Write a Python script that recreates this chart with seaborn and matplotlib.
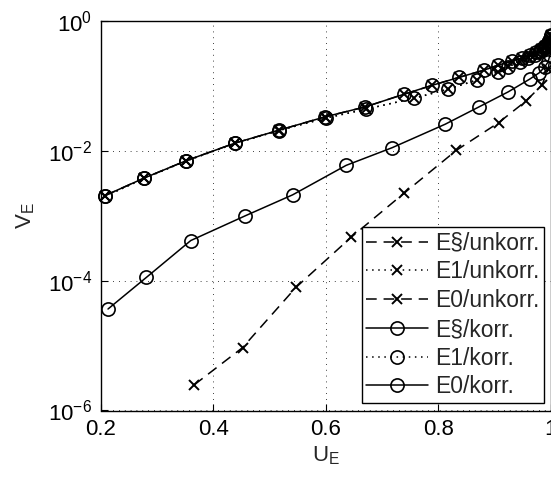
import numpy as np
import pandas as pd
import matplotlib
matplotlib.use("Agg")
import matplotlib.pyplot as plt
import seaborn as sns
from matplotlib.ticker import FixedLocator, LogFormatterSciNotation

# ---- data ----
u_es = [0.208, 0.277, 0.352, 0.439, 0.516, 0.598, 0.670, 0.739, 0.788, 0.836, 0.881, 0.906,
        0.930, 0.948, 0.962, 0.973, 0.982, 0.989, 0.994, 0.998, 1.0]
v_es = [2.05e-3, 3.8e-3, 7.06e-3, 1.32e-2, 2.07e-2, 3.33e-2, 4.75e-2, 7.46e-2, 0.1016, 0.135,
        0.175, 0.209, 0.24, 0.27, 0.30, 0.33, 0.37, 0.41, 0.46, 0.52, 0.60]

u_e1 = [0.208, 0.277, 0.352, 0.439, 0.516, 0.600, 0.672, 0.757, 0.817, 0.868, 0.906, 0.923,
        0.945, 0.960, 0.972, 0.981, 0.988, 0.993, 0.997, 1.0]
v_e1 = [2.0e-3, 3.75e-3, 7.0e-3, 1.3e-2, 2.05e-2, 3.2e-2, 4.4e-2, 6.47e-2, 8.9e-2, 0.123,
        0.165, 0.197, 0.235, 0.27, 0.30, 0.34, 0.38, 0.43, 0.50, 0.58]

u_e0k = [0.213, 0.281, 0.360, 0.457, 0.541, 0.636, 0.718, 0.812, 0.872, 0.924, 0.962, 0.979,
         0.989, 0.995, 0.998, 1.0]
v_e0k = [3.66e-5, 1.12e-4, 4.15e-4, 1.0e-3, 2.1e-3, 5.97e-3, 1.12e-2, 2.57e-2, 4.75e-2, 8.1e-2,
         0.127, 0.159, 0.197, 0.235, 0.30, 0.45]

u_e0u = [0.366, 0.452, 0.547, 0.645, 0.739, 0.832, 0.907, 0.955, 0.984, 0.995, 1.0]
v_e0u = [2.48e-6, 9.3e-6, 7.9e-5, 4.67e-4, 2.23e-3, 1.02e-2, 2.72e-2, 5.8e-2, 0.103, 0.18, 0.35]

x_ticks = [0.2, 0.4, 0.6, 0.8, 1.0]
x_ticklabels = ["0.2", "0.4", "0.6", "0.8", "1"]
y_ticks = [1e-6, 1e-4, 1e-2, 1e0]

sns.set_style("ticks")
plt.rcParams['font.family'] = ['Liberation Sans', 'DejaVu Sans']
plt.rcParams['mathtext.fontset'] = 'custom'
plt.rcParams['mathtext.rm'] = 'Liberation Sans'
plt.rcParams['mathtext.it'] = 'Liberation Sans'
plt.rcParams['mathtext.default'] = 'regular'

fig = plt.figure(figsize=(5.51, 4.79), dpi=100)
ax = fig.add_axes([100.7 / 551, 1 - 410.5 / 479, (551 - 100.7) / 551, (410.5 - 21) / 479])

lw = 1.1
dash = (0, (7, 4.5))
dot = (0, (1, 3))
circ = dict(marker='o', markersize=9.5, markerfacecolor='none', markeredgecolor='black', markeredgewidth=1.2)
cross = dict(marker='x', markersize=6.5, markeredgecolor='black', markeredgewidth=1.4)

series = [
    (u_es, v_es, dash, cross, "E§/unkorr."),
    (u_e1, v_e1, dot, cross, "E1/unkorr."),
    (u_e0u, v_e0u, dash, cross, "E0/unkorr."),
    (u_es, v_es, '-', circ, "E§/korr."),
    (u_e1, v_e1, dot, circ, "E1/korr."),
    (u_e0k, v_e0k, '-', circ, "E0/korr."),
]
for xs, ys, ls, mk, lab in series:
    df = pd.DataFrame({"U": xs, "V": ys})
    sns.lineplot(data=df, x="U", y="V", ax=ax, color='black', linestyle=ls, linewidth=lw,
                 sort=False, estimator=None, label=lab, clip_on=False, **mk)

ax.set_yscale('log')
ax.set_xlim(0.2, 1.0)
ax.set_ylim(1e-6, 1e0)
ax.xaxis.set_major_locator(FixedLocator(x_ticks))
ax.set_xticklabels(x_ticklabels)
ax.yaxis.set_major_locator(FixedLocator(y_ticks))
ax.yaxis.set_major_formatter(LogFormatterSciNotation())
ax.yaxis.set_minor_locator(FixedLocator([]))
ax.tick_params(direction='in', length=5, width=0.8, labelsize=16, pad=6, colors='black')
ax.grid(True, which='major', color='black', linestyle=(0, (1, 6)), linewidth=0.6)
for s in ax.spines.values():
    s.set_visible(True)
    s.set_color('black')
    s.set_linewidth(1.0)

ax.set_xlabel("U$_E$", fontsize=16, labelpad=3)
ax.set_ylabel("V$_E$", fontsize=16, labelpad=8)

leg = ax.legend(loc='lower right', bbox_to_anchor=((544 - 100.7) / 450.3, (410.5 - 403) / 389.5),
                borderaxespad=0, fontsize=16.5, frameon=True, fancybox=False, edgecolor='black',
                framealpha=1, handlelength=2.7, handletextpad=0.3, labelspacing=0.25,
                borderpad=0.2)
leg.get_frame().set_linewidth(1.0)

fig.savefig("out.png", dpi=100)
